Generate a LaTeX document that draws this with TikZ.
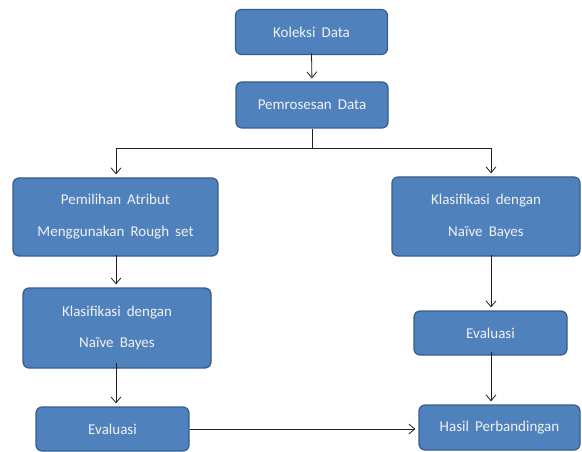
\documentclass[tikz,border=0pt]{standalone}
\usepackage{fontspec}
\setmainfont{Carlito}[WordSpace={1.8}]
\usetikzlibrary{arrows.meta}
\definecolor{boxfill}{HTML}{4F81BD}
\definecolor{boxline}{HTML}{385D8A}
\definecolor{arrowc}{HTML}{202020}
\definecolor{boxtext}{HTML}{F2F2F2}
\begin{document}
\begin{tikzpicture}[x=1pt,y=-1pt,
  box/.style={draw=boxline,line width=1.2pt,fill=boxfill,rounded corners=6pt,
    text=boxtext,font=\fontsize{15}{32}\selectfont,align=center,inner sep=0pt},
  conn/.style={draw=arrowc,line width=0.8pt},
  arr/.style={conn,-{Straight Barb[length=6pt,width=10pt]},shorten >=3pt}]
\useasboundingbox (0,0) rectangle (582,452);
\node[box,minimum width=152pt,minimum height=45pt] (kol) at (311.5,32) {Koleksi Data};
\node[box,minimum width=152pt,minimum height=46pt] (pem) at (312,105) {Pemrosesan Data};
\node[box,minimum width=205pt,minimum height=78pt] (pil) at (115.5,217) {Pemilihan Atribut\\Menggunakan Rough set};
\node[box,minimum width=188pt,minimum height=80pt] (kl1) at (117,328) {Klasifikasi dengan\\Naïve Bayes};
\node[box,minimum width=153pt,minimum height=44pt] (ev1) at (112.5,429) {Evaluasi};
\node[box,minimum width=188pt,minimum height=79pt] (kl2) at (486,216.5) {Klasifikasi dengan\\Naïve Bayes};
\node[box,minimum width=153pt,minimum height=44pt] (ev2) at (490.5,333) {Evaluasi};
\node[box,minimum width=161pt,minimum height=45pt] (has) at (499.5,427.5) {Hasil Perbandingan};
\coordinate (split) at (312,148);
\coordinate (lt) at (116,148);
\coordinate (rt) at (491,148);
\draw[arr] ([yshift=2pt]kol.south) -- (pem.north);
\draw[conn] (pem.south) -- (split);
\draw[conn] (lt) -- (rt);
\draw[arr] (lt) -- (lt |- pil.north);
\draw[arr] (rt) -- (rt |- kl2.north);
\draw[arr] ([yshift=2pt]pil.south -| lt) -- (lt |- kl1.north);
\draw[arr] ([yshift=6pt]kl1.south -| lt) -- (lt |- ev1.north);
\draw[arr] ([yshift=2pt]kl2.south -| rt) -- (rt |- ev2.north);
\draw[arr] ([yshift=4pt]ev2.south -| rt) -- (rt |- has.north);
\draw[arr] (ev1.east) -- (ev1.east -| has.west);
\end{tikzpicture}
\end{document}
